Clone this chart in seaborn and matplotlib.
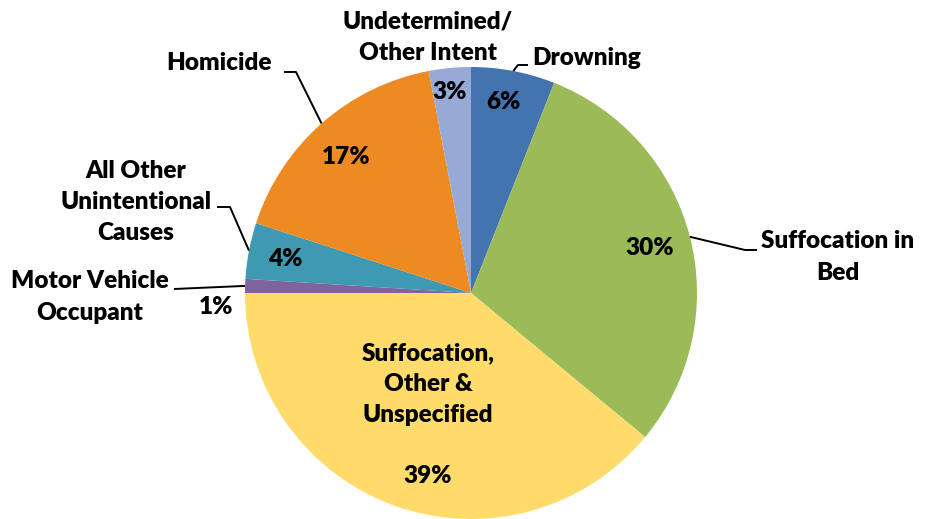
import numpy as np
import matplotlib
matplotlib.use('Agg')
import matplotlib.pyplot as plt
import seaborn as sns

# Chart data: share of infant injury deaths by cause
categories = ['Drowning', 'Suffocation in\nBed', 'Suffocation,\nOther &\nUnspecified',
              'Motor Vehicle\nOccupant', 'All Other\nUnintentional\nCauses', 'Homicide',
              'Undetermined/\nOther Intent']
values = [6, 30, 39, 1, 4, 17, 3]
slice_colors = ['#4474B0', '#9BBB59', '#FEDB6B', '#7F62A0', '#3F9AB1', '#EE8A22', '#96AAD5']

sns.set_theme(style='white')
plt.rcParams['font.family'] = ['Lato', 'DejaVu Sans']

W, H = 934, 519
fig = plt.figure(figsize=(W / 100, H / 100), dpi=100)
ax = fig.add_axes([0, 0, 1, 1])

cx, cy, r = 471, H - 293, 226
palette = sns.color_palette(slice_colors)
wedges, _ = ax.pie(values, colors=palette, startangle=90, counterclock=False,
                   center=(cx, cy), radius=r, frame=True,
                   wedgeprops=dict(linewidth=0))
ax.set_xlim(0, W)
ax.set_ylim(0, H)
ax.axis('off')

# layout: category label centres, percent label centres (pixels from top)
name_pos = [(587, 58), (838, 257), (428, 384), (90, 297), (136, 202), (219, 63), (428, 37)]
pct_pos = [(503, 102), (650, 248), (428, 476), (216, 307), (285, 259), (346, 157), (450, 92)]
# leader line knee and end points (None = no leader)
leaders = [[(518, 65), (528, 65)], [(745, 250), (757, 250)], None,
           [(174, 289)], [(230, 207), (217, 207)], [(296, 72), (284, 72)], None]

txt = dict(fontsize=17.5, fontweight='heavy', color='black', ha='center', va='center',
           linespacing=1.5)
for w, name, v, npos, ppos, lead in zip(wedges, categories, values, name_pos, pct_pos, leaders):
    ax.text(npos[0], H - npos[1], name, **txt)
    ax.text(ppos[0], H - ppos[1], f'{v}%', **txt)
    if lead:
        ang = np.deg2rad((w.theta1 + w.theta2) / 2)
        pts = [(cx + r * np.cos(ang), cy + r * np.sin(ang))] + [(x, H - y) for x, y in lead]
        xs, ys = zip(*pts)
        ax.plot(xs, ys, color='black', lw=1.4, solid_capstyle='butt')

fig.savefig('out.png', dpi=100)
